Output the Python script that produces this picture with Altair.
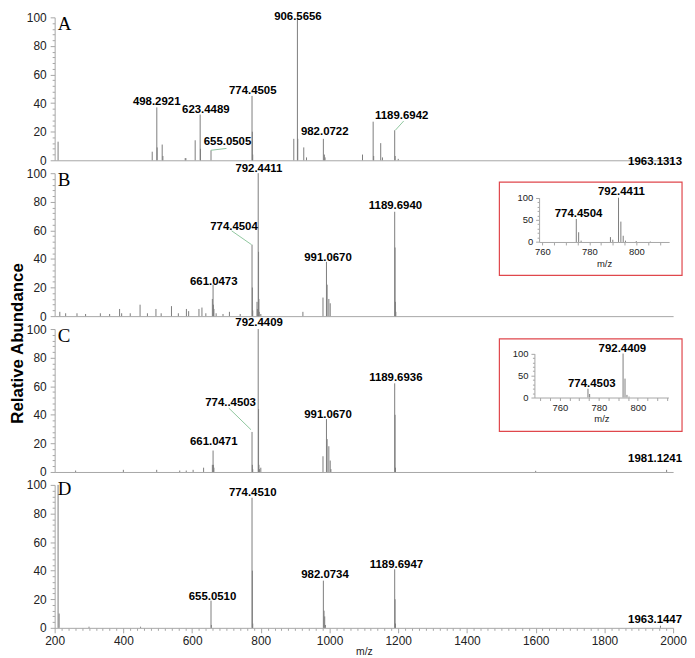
import altair as alt
import pandas as pd

FONT = "Liberation Sans"
SERIF = "Liberation Serif"
PEAK = "#7d7d7d"
AXIS = "#a6a6a6"
LEAD = "#8fc79e"
BOX = "#e0474c"
W, H = 623, 144

# ---------------- data ----------------
letters = ["A", "B", "C", "D"]

a_mz = [210, 484, 497.3, 498.3, 513, 515, 580, 582, 609, 623.45, 624.45, 655.05,
        774.45, 775.45, 776.45, 896, 906.57, 907.57, 925, 933, 982.07, 985, 987,
        1096, 1127, 1128.5, 1149, 1154, 1189.69, 1191, 1200, 1963.13]
a_ab = [13, 6, 37, 9, 11, 3, 1.5, 1.5, 14, 32, 8, 7,
        45, 20, 4, 15, 100, 15, 9, 2, 15, 4, 2,
        4, 27, 3, 12, 2, 21, 3, 1, 1]
a_lab_text = ["498.2921", "623.4489", "655.0505", "774.4505", "906.5656", "982.0722", "1189.6942"]
a_lab_mz = [497, 640, 703, 776.5, 908, 986, 1210]
a_lab_ab = [40.6, 35.3, 13, 48.5, 100.3, 19.6, 31]
a_right = "1963.1313"
a_right_ab = -1
a_lead = [(655.05, 7, 700, 8.3), (1191.5, 21, 1216, 27.5)]

b_mz = [215, 232, 265, 290, 333, 360, 389, 395, 420, 448.6,
        470, 494.8, 510, 540, 560, 583.5, 590, 620, 628.7, 640,
        659, 661.05, 662, 663.5, 670, 690, 708.7, 740,
        774.45, 775.45, 776.5, 789, 790, 792.44, 793.44, 794.44, 795.4, 800,
        922.5, 981, 991.07, 993, 998, 1002,
        1189.69, 1190.69, 1191.7, 1193]
b_ab = [3, 2, 2, 1.5, 2, 1.5, 5, 2, 2, 8,
        2, 5, 2, 7, 2, 5, 3.5, 5, 6, 2,
        12, 22, 8, 5, 2, 1.5, 3, 1.5,
        50, 20, 4, 10, 5, 100, 45, 12, 3, 1.5,
        3, 13, 38, 22, 12, 9,
        73, 48, 10, 3]
b_lab_text = ["661.0473", "774.4504", "792.4411", "991.0670", "1189.6940"]
b_lab_mz = [663, 722, 794.4, 995.5, 1192]
b_lab_ab = [24, 62.6, 102.9, 40.9, 77]
b_lead = [(715, 59.7, 773, 50)]

bi_mz = [774.45, 775.45, 776.5, 789, 790, 792.44, 793.44, 794.44, 795.4, 800, 806]
bi_ab = [52, 22, 3, 11, 5, 100, 46, 14, 3, 2, 1]
bi_lab_text = ["774.4504", "792.4411"]
bi_lab_mz = [775.4, 793.7]
bi_lab_ab = [63.5, 112.8]

c_mz = [261, 400, 497, 564, 583, 603, 633.5, 659, 661.05, 662, 663.5,
        774.45, 775.45, 776.5, 792.44, 793.44, 794.44, 796, 800,
        981, 991.07, 993, 998, 1002, 1004, 1189.69, 1190.69, 1192, 1600, 1981.12]
c_ab = [1, 1.5, 1.5, 1, 1, 1.5, 3, 5, 15, 5, 3,
        28, 5, 2, 100, 44, 5, 2, 3,
        11, 37, 23, 18, 8, 2, 62, 40, 3, 0.8, 1.5]
c_lab_text = ["661.0471", "774..4503", "792.4409", "991.0670", "1189.6936"]
c_lab_mz = [663, 712, 795, 995.5, 1193]
c_lab_ab = [20.9, 48.1, 104, 39.9, 65.6]
c_right = "1981.1241"
c_right_ab = 9.4
c_lead = [(706.8, 44.7, 771.3, 29.6)]

ci_mz = [774.45, 775.3, 792.44, 793.44, 794.44, 795.5]
ci_ab = [20, 8, 100, 43, 6, 2]
ci_lab_text = ["774.4503", "792.4409"]
ci_lab_mz = [776.4, 792.1]
ci_lab_ab = [31.6, 111]

d_mz = [210, 213, 300, 450, 655.05, 656.1, 774.45, 775.45, 776.5,
        982.07, 984, 986, 988, 1189.69, 1190.7, 1192, 1963.14]
d_ab = [100, 10, 0.8, 0.8, 19, 2, 91, 40, 3,
        33, 12, 8, 2, 41, 20, 3, 1.5]
d_lab_text = ["655.0510", "774.4510", "982.0734", "1189.6947"]
d_lab_mz = [659.4, 776.4, 986.8, 1194.8]
d_lab_ab = [21.5, 94.4, 36.9, 44.2]
d_right = "1963.1447"
d_right_ab = 5.4

x_ticks = list(range(200, 2001, 20))
y_ticks = list(range(0, 101, 4))

# ---------------- helpers ----------------
XS = alt.Scale(domain=[200, 2000], nice=False, zero=False)
YS = alt.Scale(domain=[0, 100], nice=False)


def y_axis(title=None):
    kw = dict(orient="left", values=y_ticks, format="d",
              labelExpr="datum.value % 20 === 0 ? datum.label : ''",
              tickSize={"condition": {"test": "datum.value % 20 === 0", "value": 4.5}, "value": 2.5},
              labelOverlap=False, labelFont=FONT, labelFontSize=12, labelColor="#222",
              labelPadding=4, domainColor=AXIS, tickColor=AXIS, grid=False)
    if title:
        kw.update(title=title, titleFont=FONT, titleFontSize=17, titleFontWeight="bold",
                  titleColor="black", titleX=-37, titleY=14, titleAlign="center",
                  titleBaseline="middle", titleAngle=-90)
    else:
        kw["title"] = None
    return alt.Axis(**kw)


def x_axis(full):
    if full:
        return alt.Axis(orient="bottom", values=x_ticks, format="d",
                        labelExpr="datum.value % 200 === 0 ? datum.label : ''",
                        tickSize={"condition": {"test": "datum.value % 200 === 0", "value": 5}, "value": 2.5},
                        labelOverlap=False, labelFlush=False, labelFont=FONT, labelFontSize=12,
                        labelColor="#222", labelPadding=3, domainColor=AXIS, tickColor=AXIS,
                        grid=False, title="m/z", titleFont=FONT, titleFontSize=10.5,
                        titleFontWeight="normal", titleColor="#222", titlePadding=0)
    return alt.Axis(orient="bottom", labels=False, ticks=False, domainColor=AXIS,
                    title=None, grid=False)


def inset(mz, ab, ltext, lmz, lab, dom, xr, yr, box_y, xvals):
    xs = alt.Scale(domain=dom, range=list(xr), nice=False, zero=False)
    ys = alt.Scale(domain=[0, 100], range=list(yr), nice=False)
    ix = alt.Axis(orient="bottom", offset=-(H - yr[0]), values=xvals, format="d",
                  labelExpr="datum.value % 20 === 0 ? datum.label : ''",
                  tickSize=3, labelOverlap=False, labelFlush=False, labelFont=FONT,
                  labelFontSize=9.5, labelColor="#222", labelPadding=2, domainColor=AXIS,
                  tickColor=AXIS, grid=False, title="m/z", titleFont=FONT,
                  titleFontSize=9.5, titleFontWeight="normal", titleColor="#222",
                  titlePadding=2, zindex=2)
    iy = alt.Axis(orient="left", offset=-xr[0], values=list(range(0, 101, 10)), format="d",
                  labelExpr="datum.value % 50 === 0 ? datum.label : ''",
                  tickSize={"condition": {"test": "datum.value % 50 === 0", "value": 3.5}, "value": 2},
                  labelOverlap=False, labelFont=FONT, labelFontSize=9.5, labelColor="#222",
                  labelPadding=3, domainColor=AXIS, tickColor=AXIS, grid=False, title=None,
                  zindex=2)
    box = alt.Chart(pd.DataFrame({"k": [0]})).mark_rect(
        fill="white", stroke=BOX, strokeWidth=1.2).encode(
        x=alt.value(448), x2=alt.value(632), y=alt.value(box_y[0]), y2=alt.value(box_y[1]))
    df = pd.DataFrame({"mz": mz, "ab": ab})
    peaks = alt.Chart(df).mark_rule(color=PEAK, strokeWidth=1).encode(
        x=alt.X("mz:Q", scale=xs, axis=ix), y=alt.Y("ab:Q", scale=ys, axis=iy), y2=alt.datum(0))
    ldf = pd.DataFrame({"mz": lmz, "ab": lab, "t": ltext})
    labels = alt.Chart(ldf).mark_text(font=FONT, fontSize=11.5, fontWeight="bold",
                                      color="black", baseline="middle").encode(
        x=alt.X("mz:Q", scale=xs, axis=ix), y=alt.Y("ab:Q", scale=ys, axis=iy), text="t:N")
    return alt.layer(box, peaks, labels)


def panel(letter, mz, ab, ltext, lmz, lab, leads, right=None, right_ab=0,
          full_x=False, ytitle=None, ins=None):
    xa = x_axis(full_x)
    ya = y_axis(ytitle)
    X = alt.X("mz:Q", scale=XS, axis=xa)
    Y = alt.Y("ab:Q", scale=YS, axis=ya)
    df = pd.DataFrame({"mz": mz, "ab": ab})
    layers = [alt.Chart(df).mark_rule(color=PEAK, strokeWidth=1).encode(x=X, y=Y, y2=alt.datum(0))]
    if leads:
        ld = pd.DataFrame(leads, columns=["mz", "ab", "mz2", "ab2"])
        layers.append(alt.Chart(ld).mark_rule(color=LEAD, strokeWidth=1).encode(
            x=X, y=Y, x2="mz2:Q", y2="ab2:Q"))
    ldf = pd.DataFrame({"mz": lmz, "ab": lab, "t": ltext})
    layers.append(alt.Chart(ldf).mark_text(font=FONT, fontSize=11.5, fontWeight="bold",
                                           color="black", baseline="middle").encode(
        x=X, y=Y, text="t:N"))
    if right:
        rdf = pd.DataFrame({"mz": [2026], "ab": [right_ab], "t": [right]})
        layers.append(alt.Chart(rdf).mark_text(font=FONT, fontSize=11.5, fontWeight="bold",
                                               color="black", baseline="middle",
                                               align="right").encode(x=X, y=Y, text="t:N"))
    letdf = pd.DataFrame({"mz": [209], "ab": [97 if letter == "D" else 95], "t": [letter]})
    layers.append(alt.Chart(letdf).mark_text(font=SERIF, fontSize=19, color="black",
                                             align="left", baseline="middle").encode(
        x=X, y=Y, text="t:N"))
    main = alt.layer(*layers)
    if ins is not None:
        out = alt.layer(main, ins).resolve_scale(x="independent", y="independent")
    else:
        out = main
    return out.properties(width=W, height=H)


pA = panel(letters[0], a_mz, a_ab, a_lab_text, a_lab_mz, a_lab_ab, a_lead, a_right, a_right_ab)
pB = panel(letters[1], b_mz, b_ab, b_lab_text, b_lab_mz, b_lab_ab, b_lead,
           ins=inset(bi_mz, bi_ab, bi_lab_text, bi_lab_mz, bi_lab_ab,
                     [758.6, 814], (488, 619), (69.3, 24.7), (9, 103),
                     list(range(760, 811, 5))))
pC = panel(letters[2], c_mz, c_ab, c_lab_text, c_lab_mz, c_lab_ab, c_lead, c_right, c_right_ab,
           ytitle="Relative Abundance",
           ins=inset(ci_mz, ci_ab, ci_lab_text, ci_lab_mz, ci_lab_ab,
                     [747, 815.7], (483.3, 618.3), (69, 24.7), (10, 103),
                     list(range(750, 816, 5))))
pD = panel(letters[3], d_mz, d_ab, d_lab_text, d_lab_mz, d_lab_ab, [], d_right, d_right_ab,
           full_x=True)

chart = alt.vconcat(pA, pB, pC, pD, spacing=13, bounds="flush").properties(
    padding=0, background="white").configure_view(stroke=None)

chart.save("out.html", embed_options={"renderer": "svg", "actions": False})
